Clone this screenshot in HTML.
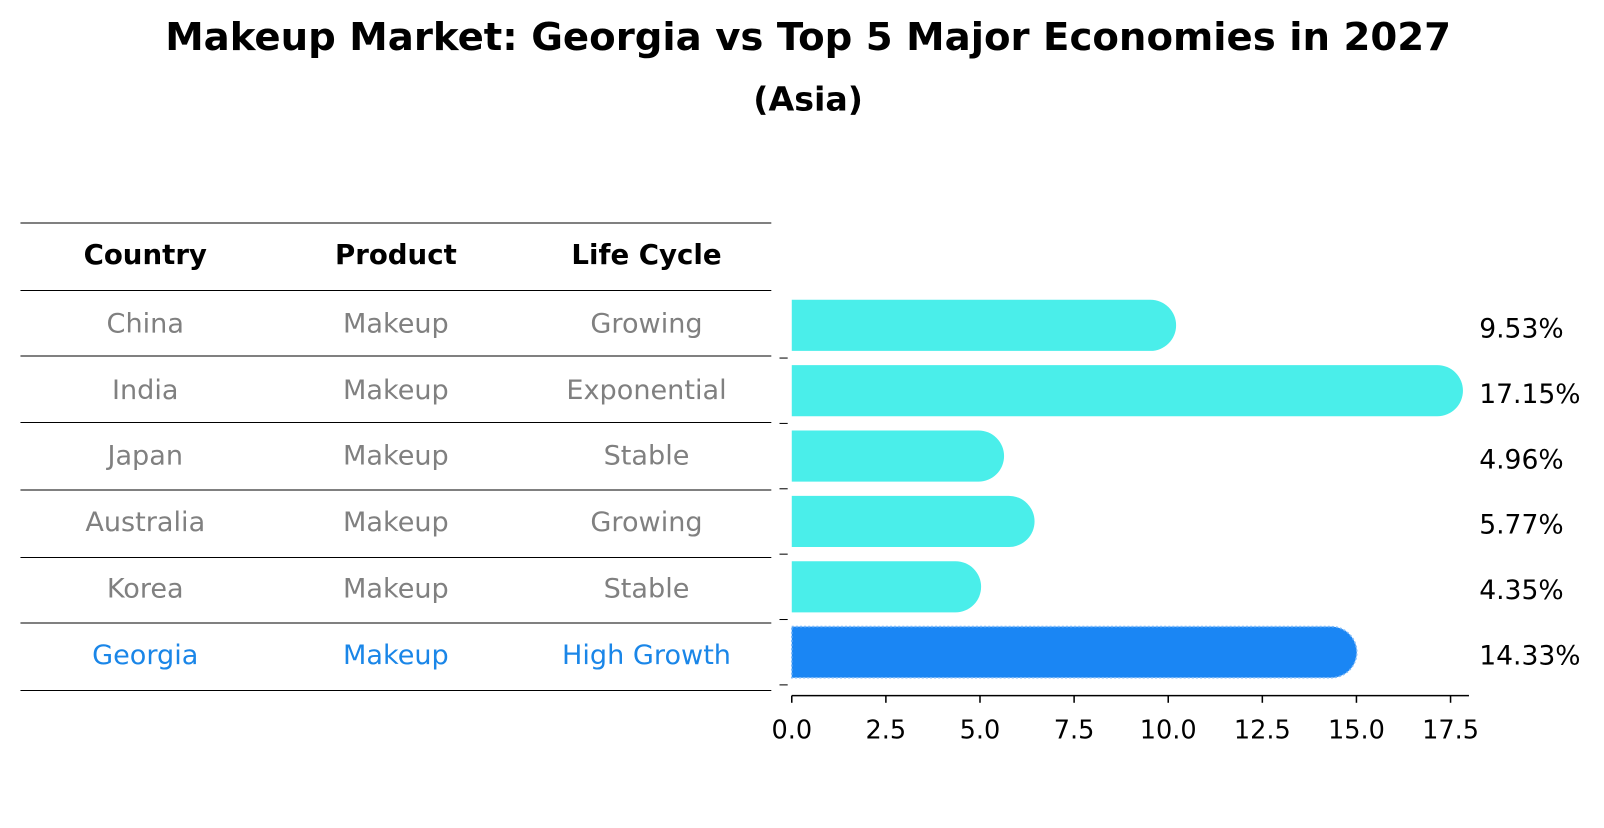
<!DOCTYPE html>
<html><head><meta charset="utf-8"><style>
body{margin:0;background:#fff;width:1604px;height:823px;overflow:hidden;font-family:"Liberation Sans","DejaVu Sans",sans-serif}
</style></head><body>
<svg width="1604" height="823" viewBox="0 0 1568 804.5" style="font-family:'DejaVu Sans','Liberation Sans',sans-serif">
<text x="790" y="49" text-anchor="middle" font-size="37.8" font-weight="bold">Makeup Market: Georgia vs Top 5 Major Economies in 2027</text>
<text x="790" y="108" text-anchor="middle" font-size="32.5" font-weight="bold">(Asia)</text>
<g id="table"></g>
<g id="bars"></g>
</svg>
<script>
const countries=["China","India","Japan","Australia","Korea","Georgia"];
const products=["Makeup","Makeup","Makeup","Makeup","Makeup","Makeup"];
const lifecycles=["Growing","Exponential","Stable","Growing","Stable","High Growth"];
const values=[9.53,17.15,4.96,5.77,4.35,14.33];
const valueLabels=["9.53%","17.15%","4.96%","5.77%","4.35%","14.33%"];
const ticks=[0,2.5,5,7.5,10,12.5,15,17.5];
const NS="http://www.w3.org/2000/svg";
function mk(tag,attrs,parent,text){const e=document.createElementNS(NS,tag);for(const k in attrs)e.setAttribute(k,attrs[k]);if(text!==undefined)e.textContent=text;parent.appendChild(e);return e;}
const x0=774,scale=36.8;
const xs=v=>x0+v*scale;
const rowY=i=>316+i*63.9;
const tbl=document.getElementById('table');
const lines=[218,284,348,413,479,545,609,675];
lines.forEach(y=>{const l=mk('line',{x1:20,x2:754,y1:y,y2:y,stroke:'#000','stroke-width':1},tbl);

});
const cx=[142,387,632];
["Country","Product","Life Cycle"].forEach((h,j)=>{const t=mk('text',{x:cx[j],y:258,'text-anchor':'middle','font-size':27,'font-weight':'bold'},tbl,h);

});
const tY=[316,381,445,510,575,640];
countries.forEach((c,i)=>{const col=i===countries.length-1?'#1a86e8':'#808080';
[c,products[i],lifecycles[i]].forEach((s,j)=>{const t=mk('text',{x:cx[j],y:tY[i]+9,'text-anchor':'middle','font-size':26.5,fill:col},tbl,s);

});});
const g=document.getElementById('bars');
const h=50,r=25;
values.forEach((v,i)=>{const y=rowY(i)+2;const last=i===values.length-1;const col=last?'#1a86f4':'#4aeeea';
const b=mk('path',{d:`M${x0},${y-h/2} H${xs(v)} A${r},${r} 0 0 1 ${xs(v)},${y+h/2} H${x0} Z`,fill:col,stroke:last?'#7fbaf8':'none','stroke-width':last?1.5:0,'stroke-dasharray':last?'2 2':''},g);


const tk=mk('line',{x1:762,x2:770,y1:y+32,y2:y+32,stroke:'#000','stroke-width':1},g);


const t=mk('text',{x:1446,y:y+12,'font-size':26},g,valueLabels[i]);

});
const ax=mk('line',{x1:x0,x2:1436,y1:680,y2:680,stroke:'#000','stroke-width':1.5},g);


ticks.forEach(v=>{const l=mk('line',{x1:xs(v),x2:xs(v),y1:680,y2:687,stroke:'#000','stroke-width':1.5},g);


const t=mk('text',{x:xs(v),y:722,'text-anchor':'middle','font-size':25},g,v.toFixed(1));

});
</script>
</body></html>
